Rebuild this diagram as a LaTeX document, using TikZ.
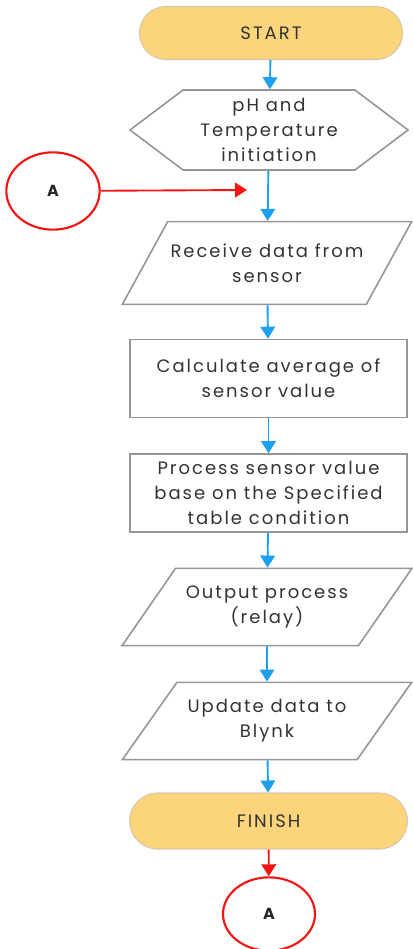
\documentclass[tikz,border=0pt]{standalone}
\usepackage{fontspec}
\setmainfont{Poppins}
\newfontfamily\flowfont[LetterSpace=11]{Poppins}
\usetikzlibrary{shapes.geometric,shapes.misc,shapes.symbols,arrows.meta}
\definecolor{termfill}{RGB}{251,212,123}
\definecolor{termline}{RGB}{215,200,170}
\definecolor{flowblue}{RGB}{30,160,240}
\definecolor{linkred}{RGB}{245,20,20}
\definecolor{boxgray}{RGB}{150,150,150}
\tikzset{
	txt/.style={font=\flowfont\fontsize{13.5}{18.75}\selectfont, align=center, text=black!80},
	term/.style={txt, rounded rectangle, fill=termfill, draw=termline, line width=0.8pt},
	hexa/.style={txt, signal, signal to=west and east, signal pointer angle=74, draw=boxgray, line width=1.2pt, inner sep=1pt},
	iobox/.style={txt, trapezium, trapezium left angle=43, trapezium right angle=137, trapezium stretches=true, draw=boxgray, line width=1.2pt, inner sep=1pt},
	procbox/.style={txt, rectangle, draw=boxgray, line width=1.2pt, minimum width=208pt, minimum height=58.5pt, inner sep=1pt},
	link/.style={ellipse, draw=linkred, line width=1.6pt, minimum width=70pt, minimum height=58pt, font=\bfseries\fontsize{12}{14}\selectfont, text=black!85},
	flow/.style={flowblue, line width=1.4pt, -{Triangle[width=11pt,length=9pt]}},
	back/.style={linkred, line width=1.4pt, -{Triangle[width=11pt,length=9pt]}}
}
\begin{document}
\begin{tikzpicture}[x=0.75pt, y=-0.75pt]
	\useasboundingbox (0,0) rectangle (412,949);
	\node[term, minimum width=204pt, minimum height=39.75pt] (start) at (271,33) {START};
	\node[hexa, minimum width=208.5pt, minimum height=60pt] (init) at (269,130) {pH and\\Temperature\\initiation};
	\node[link] (connA) at (53,191) {A};
	\coordinate (joinpt) at (247,190);
	\node[iobox, minimum width=217.5pt, minimum height=62pt] (recv) at (267,263) {Receive data from\\sensor};
	\node[procbox] (calc) at (268.5,378.5) {Calculate average of\\sensor value};
	\node[procbox] (proc) at (268.5,493) {Process sensor value\\base on the Specified\\table condition};
	\node[iobox, minimum width=217.5pt, minimum height=58pt] (out) at (267,607) {Output process\\(relay)};
	\node[iobox, minimum width=217.5pt, minimum height=58pt] (upd) at (267,721) {Update data to\\Blynk};
	\node[term, minimum width=215pt, minimum height=42pt] (finish) at (268.5,821) {FINISH};
	\node[link, minimum height=55pt, minimum width=69pt] (connB) at (269,914) {A};
	\draw[flow] (start) -- (init);
	\draw[flow] (init) -- (recv);
	\draw[back] (connA) -- (joinpt);
	\draw[flow] (recv) -- (calc);
	\draw[flow] (calc) -- (proc);
	\draw[flow] (proc) -- (out);
	\draw[flow] (out) -- (upd);
	\draw[flow] (upd) -- (finish);
	\draw[back] (finish) -- (connB);
\end{tikzpicture}
\end{document}
